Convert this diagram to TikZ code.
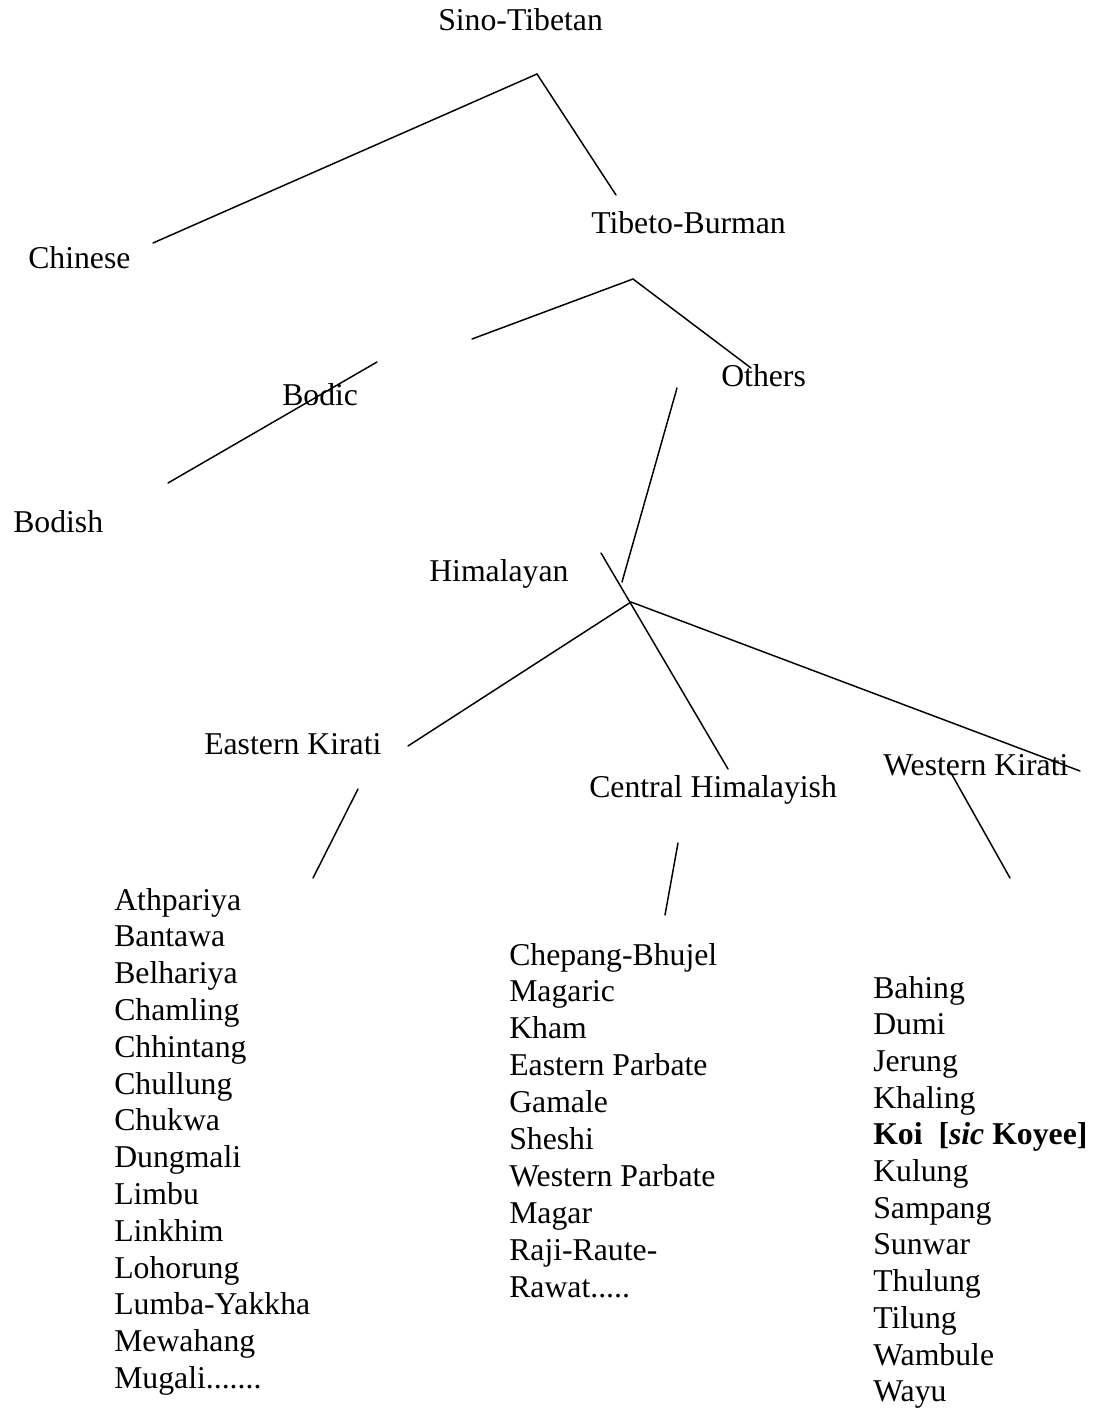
\documentclass[tikz,border=0pt]{standalone}
\usepackage{fontspec}
\setmainfont{Liberation Serif}
\begin{document}
\begin{tikzpicture}[x=0.75pt,y=-0.75pt,
  lbl/.style={anchor=base west,inner sep=0pt,font=\fontsize{23.8}{27}\selectfont},
  br/.style={line width=1.1pt,line cap=round}]
\useasboundingbox (0,0) rectangle (1096,1409);
% labels
\node[lbl] (sino) at (438,31) {Sino-Tibetan};
\node[lbl] (chinese) at (28,268) {Chinese};
\node[lbl] (tb) at (591,233) {Tibeto-Burman};
\node[lbl] (bodic) at (282,405) {Bodic};
\node[lbl] (others) at (721,386) {Others};
\node[lbl] (bodish) at (13,532) {Bodish};
\node[lbl] (himal) at (429,581) {Himalayan};
\node[lbl] (ek) at (204,754) {Eastern Kirati};
\node[lbl] (ch) at (589,797) {Central Himalayish};
\node[lbl] (wk) at (883,775) {Western Kirati};
% lists
\foreach \t [count=\i from 0] in {Athpariya,Bantawa,Belhariya,Chamling,Chhintang,Chullung,Chukwa,Dungmali,Limbu,Linkhim,Lohorung,Lumba-Yakkha,Mewahang}
  \node[lbl] (ekl\i) at (114,{910+36.8*\i}) {\t};
\node[lbl] (ekl13) at (114,{910+36.8*13}) {Mugali.......};
\foreach \t [count=\i from 0] in {Chepang-Bhujel,Magaric,Kham,Eastern Parbate,Gamale,Sheshi,Western Parbate,Magar,Raji-Raute-}
  \node[lbl] (chl\i) at (509,{965+36.9*\i}) {\t};
\node[lbl] (chl9) at (509,{965+36.9*9}) {Rawat.....};
\foreach \t [count=\i from 0] in {Bahing,Dumi,Jerung,Khaling,{\textbf{Koi\ \ [\textit{sic} Koyee]}},Kulung,Sampang,Sunwar,Thulung,Tilung,Wambule,Wayu}
  \node[lbl] (wkl\i) at (873,{998+36.7*\i}) {\t};
% branch points
\coordinate (stA) at (537,74);
\coordinate (chE) at (153,243);
\coordinate (tbE) at (616,195);
\coordinate (tbA) at (633,279);
\coordinate (boE) at (472,339);
\coordinate (otE) at (751,368);
\coordinate (bdT) at (377,362);
\coordinate (bdB) at (168,483);
\coordinate (otT) at (677,388);
\coordinate (otB) at (622,582);
\coordinate (hmA) at (631,602);
\coordinate (xT) at (601,553);
\coordinate (chT) at (728,769);
\coordinate (ekT) at (408,746);
\coordinate (wkT) at (1080,771);
\coordinate (ekA) at (358,789);
\coordinate (ekB) at (313,878);
\coordinate (chA) at (678,843);
\coordinate (chB) at (665,915);
\coordinate (wkA) at (951,773);
\coordinate (wkB) at (1010,878);
% connectors
\draw[br] (chE) -- (stA) -- (tbE);
\draw[br] (boE) -- (tbA) -- (otE);
\draw[br] (bdT) -- (bdB);
\draw[br] (otT) -- (otB);
\draw[br] (xT) -- (chT);
\draw[br] (ekT) -- (hmA) -- (wkT);
\draw[br] (ekA) -- (ekB);
\draw[br] (chA) -- (chB);
\draw[br] (wkA) -- (wkB);
\end{tikzpicture}
\end{document}
